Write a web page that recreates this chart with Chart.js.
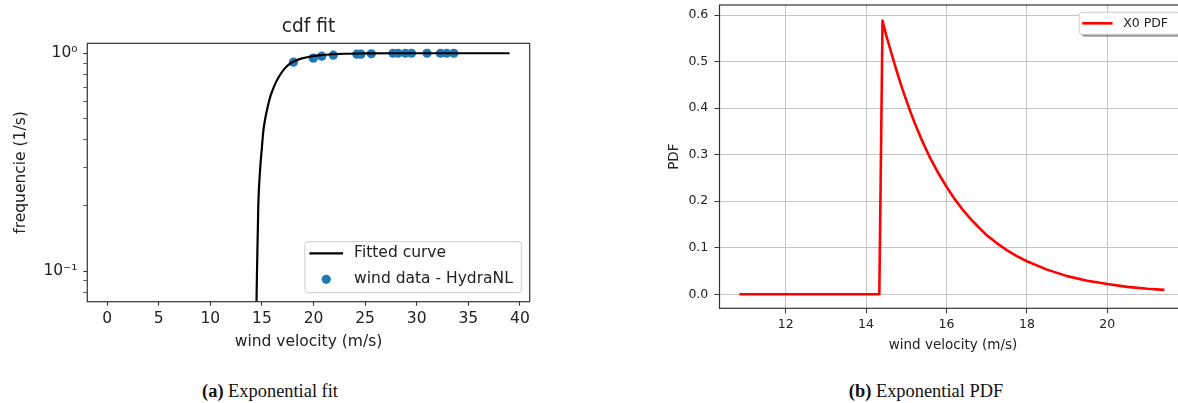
<!DOCTYPE html>
<html>
<head>
<meta charset="utf-8">
<script src="https://cdn.jsdelivr.net/npm/chart.js@4.4.0/dist/chart.umd.min.js"></script>
<style>
  html, body { margin: 0; padding: 0; background: #fff; }
  body { width: 1178px; height: 403px; overflow: hidden; position: relative; }
  .panel { position: absolute; top: 0; height: 372px; }
  #wrapA { left: 0; width: 617px; }
  #wrapB { left: 620px; width: 580px; }
  .cap {
    position: absolute; top: 391px; transform: translate(-50%, -50%);
    font-family: "Liberation Serif", "Times New Roman", serif;
    font-size: 18.4px; white-space: nowrap; color: #111;
  }
</style>
</head>
<body>
<div class="panel" id="wrapA"><canvas id="cdfChart" width="617" height="372"></canvas></div>
<div class="panel" id="wrapB"><canvas id="pdfChart" width="580" height="372"></canvas></div>
<div class="cap" style="left:270px"><b>(a)</b> Exponential fit</div>
<div class="cap" style="left:926px"><b>(b)</b> Exponential PDF</div>

<script>
// ── data ──
// (a) fitted exponential cdf, log y axis
const fitX = [14.45, 14.5, 14.65, 14.82, 15.0, 15.14, 15.35, 15.55, 15.78, 16.0, 16.35, 16.75,
              17.2, 17.6, 18.04, 18.8, 19.66, 20.5, 21.5, 23, 25, 28, 32, 39];
const fitY = [0.06, 0.085, 0.20, 0.29, 0.37, 0.44, 0.51, 0.565, 0.625, 0.67, 0.735, 0.795,
              0.85, 0.887, 0.915, 0.945, 0.965, 0.978, 0.987, 0.995, 0.998, 1.0, 1.0, 1.0];
// wind data points (HydraNL)
const windX = [18.05, 19.98, 20.8, 21.92, 24.2, 24.6, 25.6, 27.7, 28.2, 28.9, 29.5, 31.0, 32.3, 32.9, 33.6];
const windY = [0.91, 0.95, 0.97, 0.98, 0.99, 0.99, 0.995, 1.0, 1.0, 1.0, 1.0, 1.0, 1.0, 1.0, 1.0];
// log axis tick positions (majors 0.1 and 1, rest minor)
const cdfTicks = [0.08, 0.09, 0.1, 0.2, 0.3, 0.4, 0.5, 0.6, 0.7, 0.8, 0.9, 1];

// (b) X0 PDF
const pdfX = [10.85, 14.33, 14.41, 14.5, 14.6, 14.7, 14.8, 14.9, 15.0, 15.1, 15.2, 15.3, 15.4,
              15.5, 15.6, 15.7, 15.8, 16.0, 16.2, 16.4, 16.6, 16.8, 17.0, 17.25, 17.5, 17.75,
              18.0, 18.5, 19.0, 19.5, 20.0, 20.5, 21.0, 21.42];
const pdfY = [0, 0, 0.588, 0.557, 0.527, 0.497, 0.469, 0.442, 0.417, 0.393, 0.370, 0.349, 0.329,
              0.310, 0.292, 0.276, 0.260, 0.231, 0.205, 0.182, 0.162, 0.144, 0.127, 0.110, 0.095, 0.082,
              0.071, 0.053, 0.039, 0.029, 0.022, 0.016, 0.012, 0.0095];

Chart.defaults.font.family = '"DejaVu Sans", sans-serif';
Chart.defaults.color = '#222';

const pts = (xs, ys) => xs.map((x, i) => ({ x, y: ys[i] }));

// matplotlib-like axes frame
const mplFrame = {
  id: 'mplFrame',
  afterDatasetsDraw(chart, args, o) {
    const { ctx, chartArea: a } = chart;
    ctx.save();
    ctx.strokeStyle = o.color || '#333';
    ctx.lineWidth = o.width || 1.2;
    ctx.strokeRect(a.left, a.top, a.right - a.left, a.bottom - a.top);
    ctx.restore();
  }
};

// matplotlib-like legend box inside the axes
const mplLegend = {
  id: 'mplLegend',
  afterDraw(chart, args, o) {
    if (!o.corner) return;
    const { ctx, chartArea: a } = chart;
    const sets = chart.data.datasets;
    ctx.save();
    ctx.font = o.fontSize + 'px "DejaVu Sans"';
    const textW = Math.max(...sets.map(d => ctx.measureText(d.label).width));
    const w = o.padLeft + o.handleLen + o.gap + textW + o.padRight;
    const h = o.height;
    const x = a.right - o.insetRight - w;
    const y = o.corner === 'lower' ? a.bottom - o.insetBottom - h : a.top + o.insetTop;
    const box = (bx, by) => {
      ctx.beginPath();
      ctx.roundRect(bx, by, w, h, 3);
    };
    if (o.shadow) {
      ctx.fillStyle = 'rgba(0,0,0,0.4)';
      box(x + 2.5, y + 2.5);
      ctx.fill();
    }
    ctx.fillStyle = o.shadow ? '#fff' : 'rgba(255,255,255,0.8)';
    box(x, y);
    ctx.fill();
    ctx.strokeStyle = '#cccccc';
    ctx.lineWidth = 1;
    ctx.stroke();

    ctx.textBaseline = 'middle';
    ctx.textAlign = 'left';
    sets.forEach((d, i) => {
      const cy = y + o.firstRow + i * o.rowGap;
      const hx = x + o.padLeft;
      if (d.type === 'scatter') {
        ctx.fillStyle = d.backgroundColor;
        ctx.beginPath();
        ctx.arc(hx + o.handleLen / 2, cy, d.pointRadius, 0, Math.PI * 2);
        ctx.fill();
      } else {
        ctx.strokeStyle = d.borderColor;
        ctx.lineWidth = d.borderWidth;
        ctx.beginPath();
        ctx.moveTo(hx, cy);
        ctx.lineTo(hx + o.handleLen, cy);
        ctx.stroke();
      }
      ctx.fillStyle = '#222';
      ctx.fillText(d.label, hx + o.handleLen + o.gap, cy);
    });
    ctx.restore();
  }
};

const noPad = s => { s.paddingTop = 0; s.paddingBottom = 0; s.paddingLeft = 0; s.paddingRight = 0; };

// ── (a) cdf fit ──
new Chart(document.getElementById('cdfChart'), {
  data: {
    datasets: [
      {
        type: 'line',
        label: 'Fitted curve',
        data: pts(fitX, fitY),
        borderColor: '#000',
        borderWidth: 2.2,
        borderJoinStyle: 'round',
        pointRadius: 0,
        cubicInterpolationMode: 'monotone',
        yAxisID: 'y',
        order: 0,
      },
      {
        type: 'scatter',
        label: 'wind data - HydraNL',
        data: pts(windX, windY),
        backgroundColor: '#1f77b4',
        borderWidth: 0,
        pointRadius: 4.6,
        yAxisID: 'y',
        order: 1,
      },
    ],
  },
  options: {
    responsive: false,
    animation: false,
    layout: { padding: 0 },
    plugins: {
      legend: { display: false },
      tooltip: { enabled: false },
      title: {
        display: true,
        text: 'cdf fit',
        color: '#222',
        font: { size: 18.6, weight: 'normal' },
        padding: { top: 16.3, bottom: 4.7 },
      },
      mplFrame: { color: '#333', width: 1.2 },
      mplLegend: {
        corner: 'lower', fontSize: 15.5, padLeft: 4.5, handleLen: 33.7, gap: 11, padRight: 8.6,
        height: 51, insetRight: 8.3, insetBottom: 9, firstRow: 11.6, rowGap: 26,
      },
    },
    scales: {
      x: {
        type: 'linear',
        min: -1.92,
        max: 40.95,
        ticks: { stepSize: 5, includeBounds: false, padding: 3.7, font: { size: 15.5 }, color: '#222' },
        grid: { drawOnChartArea: false, tickLength: 4, tickColor: '#333', tickWidth: 1.1 },
        border: { display: false },
        title: { display: true, text: 'wind velocity (m/s)', font: { size: 15.5 }, color: '#222', padding: { top: 0, bottom: 21 } },
        afterFit: s => { s.height = 70.3; noPad(s); },
      },
      y: {
        type: 'logarithmic',
        min: 0.0723,
        max: 1.111,
        afterBuildTicks: s => { s.ticks = cdfTicks.map(v => ({ value: v })); },
        ticks: {
          autoSkip: false,
          padding: 5.8,
          font: { size: 15.5 },
          color: '#222',
          callback: v => (v === 1 ? '10⁰' : v === 0.1 ? '10⁻¹' : ''),
        },
        grid: {
          drawOnChartArea: false,
          tickLength: 4,
          tickColor: '#333',
          tickWidth: c => (c.tick && (c.tick.value === 1 || c.tick.value === 0.1) ? 1.1 : 0.8),
        },
        border: { display: false },
        title: { display: true, text: 'frequencie (1/s)', font: { size: 15.5 }, color: '#222', padding: { top: 11.4, bottom: 0 } },
        afterFit: s => { s.width = 87.3; noPad(s); },
      },
      // empty right-hand gutter so the title centres over the axes
      pad: {
        type: 'linear',
        position: 'right',
        ticks: { display: false },
        grid: { display: false },
        border: { display: false },
        afterFit: s => { s.width = 87.3; noPad(s); },
      },
    },
  },
  plugins: [mplFrame, mplLegend],
});

// ── (b) exponential pdf ──
new Chart(document.getElementById('pdfChart'), {
  type: 'line',
  data: {
    datasets: [{
      label: 'X0 PDF',
      data: pts(pdfX, pdfY),
      borderColor: '#ff0000',
      borderWidth: 2.6,
      borderJoinStyle: 'round',
      pointRadius: 0,
      tension: 0,
    }],
  },
  options: {
    responsive: false,
    animation: false,
    layout: { padding: { top: 5, right: 13.5, left: 0, bottom: 0 } },
    plugins: {
      legend: { display: false },
      tooltip: { enabled: false },
      mplFrame: { color: '#333', width: 1.2 },
      mplLegend: {
        corner: 'upper', shadow: true, fontSize: 12.5, padLeft: 3, handleLen: 30.4, gap: 10.6, padRight: 12,
        height: 22, insetRight: 6.5, insetTop: 7.3, firstRow: 11, rowGap: 0,
      },
    },
    scales: {
      x: {
        type: 'linear',
        min: 10.355,
        max: 21.97,
        ticks: { stepSize: 2, includeBounds: false, padding: 4.2, font: { size: 12.5 }, color: '#222' },
        grid: { color: '#c4c4c4', lineWidth: 1, tickLength: 5, tickColor: '#333' },
        border: { display: false },
        title: { display: true, text: 'wind velocity (m/s)', font: { size: 13.5 }, color: '#222', padding: { top: 0, bottom: 18.9 } },
        afterFit: s => { s.height = 63.7; noPad(s); },
      },
      y: {
        type: 'linear',
        min: -0.0301,
        max: 0.6215,
        ticks: { stepSize: 0.1, includeBounds: false, padding: 6.2, font: { size: 12.5 }, color: '#222', callback: v => v.toFixed(1) },
        grid: { color: '#c4c4c4', lineWidth: 1, tickLength: 5, tickColor: '#333' },
        border: { display: false },
        title: { display: true, text: 'PDF', font: { size: 13.5 }, color: '#222', padding: { top: 46.2, bottom: 0 } },
        afterFit: s => { s.width = 99.5; noPad(s); },
      },
    },
  },
  plugins: [mplFrame, mplLegend],
});
</script>
</body>
</html>
